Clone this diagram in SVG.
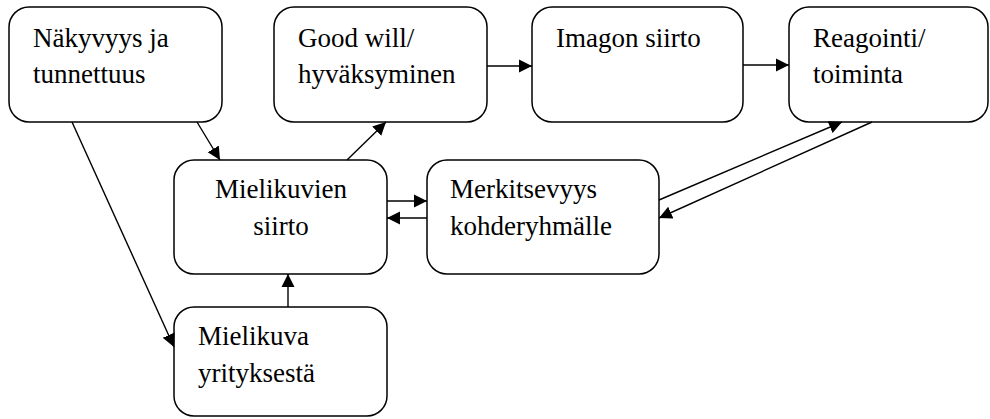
<svg xmlns="http://www.w3.org/2000/svg" width="990" height="419" viewBox="0 0 990 419">
  <style>
    .box { fill: #ffffff; stroke: #000000; stroke-width: 1.5; }
    .lbl { font-family: "Liberation Serif", "DejaVu Serif", serif; font-size: 27px; fill: #000000; }
    .mid { text-anchor: middle; }
    .edge { stroke: #000000; stroke-width: 1.4; fill: none; marker-end: url(#arrow); }
  </style>
  <defs>
    <marker id="arrow" markerUnits="userSpaceOnUse" markerWidth="14" markerHeight="14" viewBox="0 0 14 14" refX="13" refY="7" orient="auto">
      <path d="M0,0.5 L13,7 L0,13.5 Z" fill="#000000"/>
    </marker>
  </defs>

  <rect width="990" height="419" fill="#ffffff"/>

  <g id="nakyvyys">
    <rect class="box" x="9" y="7" width="213" height="115" rx="20"/>
    <text class="lbl" x="33" y="47">Näkyvyys ja</text>
    <text class="lbl" x="33" y="83">tunnettuus</text>
  </g>

  <g id="goodwill">
    <rect class="box" x="274" y="7" width="213" height="115" rx="20"/>
    <text class="lbl" x="298" y="47">Good will/</text>
    <text class="lbl" x="298" y="83">hyväksyminen</text>
  </g>

  <g id="imagon-siirto">
    <rect class="box" x="532" y="7" width="211" height="115" rx="20"/>
    <text class="lbl" x="556" y="47">Imagon siirto</text>
  </g>

  <g id="reagointi">
    <rect class="box" x="789" y="7" width="199" height="115" rx="20"/>
    <text class="lbl" x="813" y="47">Reagointi/</text>
    <text class="lbl" x="813" y="83">toiminta</text>
  </g>

  <g id="mielikuvien-siirto">
    <rect class="box" x="174" y="160" width="213" height="114" rx="20"/>
    <text class="lbl mid" x="281" y="198">Mielikuvien</text>
    <text class="lbl mid" x="281" y="235">siirto</text>
  </g>

  <g id="merkitsevyys">
    <rect class="box" x="427" y="160" width="232" height="114" rx="20"/>
    <text class="lbl" x="450" y="198">Merkitsevyys</text>
    <text class="lbl" x="450" y="235">kohderyhmälle</text>
  </g>

  <g id="mielikuva-yrityksesta">
    <rect class="box" x="174" y="307" width="213" height="109" rx="20"/>
    <text class="lbl" x="198" y="345">Mielikuva</text>
    <text class="lbl" x="198" y="382">yrityksestä</text>
  </g>

  <g id="connectors">
    <line class="edge" x1="197" y1="122" x2="220" y2="160"/>
    <line class="edge" x1="72" y1="122" x2="174" y2="347"/>
    <line class="edge" x1="347" y1="160" x2="386" y2="122"/>
    <line class="edge" x1="487" y1="66" x2="532" y2="66"/>
    <line class="edge" x1="743" y1="65" x2="789" y2="65"/>
    <line class="edge" x1="387" y1="201" x2="427" y2="201"/>
    <line class="edge" x1="427" y1="218" x2="387" y2="218"/>
    <line class="edge" x1="288" y1="307" x2="288" y2="274"/>
    <line class="edge" x1="659" y1="200" x2="842" y2="122"/>
    <line class="edge" x1="872" y1="122" x2="659" y2="218"/>
  </g>
</svg>
